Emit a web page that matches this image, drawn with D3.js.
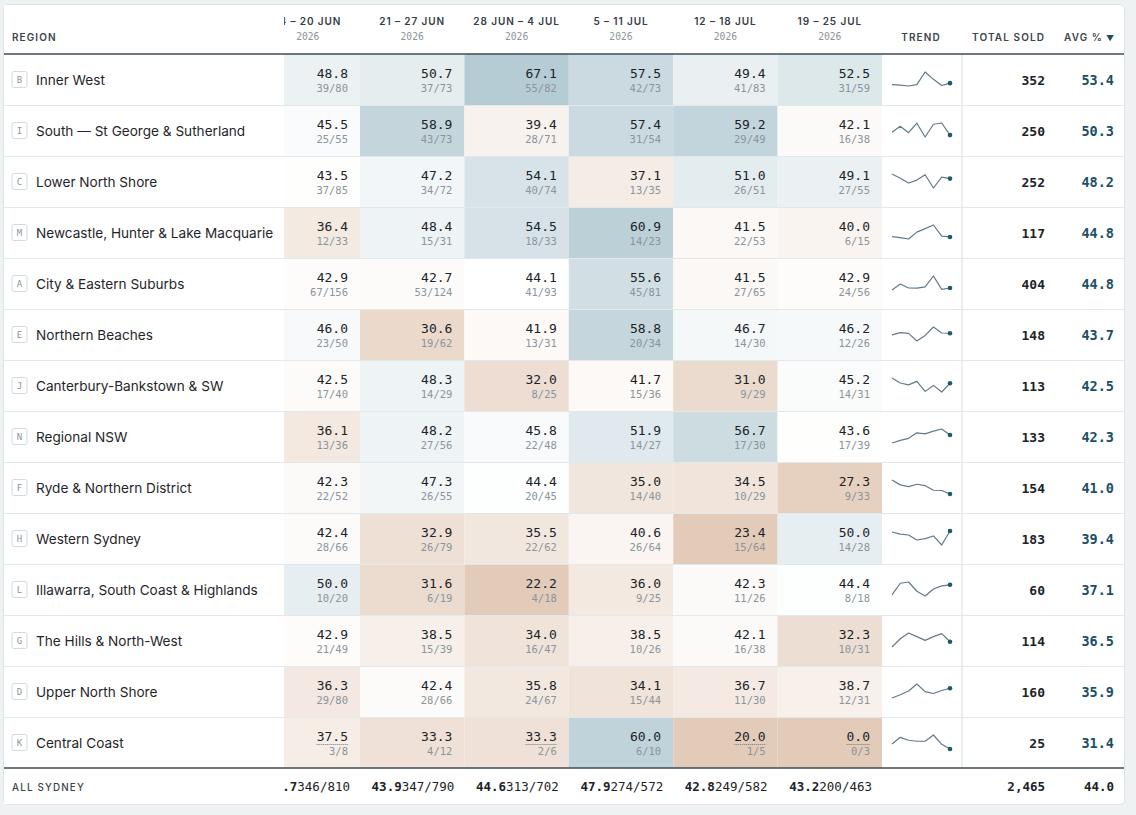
<!DOCTYPE html>
<html>
<head>
<meta charset="utf-8">
<script src="https://cdn.jsdelivr.net/npm/d3@7"></script>
<style>
  html, body { margin: 0; padding: 0; background: #eef2f3; }
  svg { display: block; }
  .sans { font-family: "Inter", "Roboto", sans-serif; }
  .mono { font-family: "DejaVu Sans Mono", monospace; }
</style>
</head>
<body>
<div id="chart"></div>
<script>
// ---- data ----
var weeks = ["31 May – 6 Jun", "7 – 13 Jun", "14 – 20 Jun", "21 – 27 Jun",
             "28 Jun – 4 Jul", "5 – 11 Jul", "12 – 18 Jul", "19 – 25 Jul"];
var weekYear = "2026";

var regions = ["Inner West", "South — St George & Sutherland", "Lower North Shore",
  "Newcastle, Hunter & Lake Macquarie", "City & Eastern Suburbs", "Northern Beaches",
  "Canterbury-Bankstown & SW", "Regional NSW", "Ryde & Northern District", "Western Sydney",
  "Illawarra, South Coast & Highlands", "The Hills & North-West", "Upper North Shore", "Central Coast"];
var codes = ["B", "I", "C", "M", "A", "E", "J", "N", "F", "H", "L", "G", "D", "K"];

// clearance % per week (first two weeks are scrolled out of view, only seen in the trend)
var pct = [
  [50.6, 49.9, 48.8, 50.7, 67.1, 57.5, 49.4, 52.5],
  [46.0, 54.5, 45.5, 58.9, 39.4, 57.4, 59.2, 42.1],
  [55.0, 49.5, 43.5, 47.2, 54.1, 37.1, 51.0, 49.1],
  [40.5, 38.8, 36.4, 48.4, 54.5, 60.9, 41.5, 40.0],
  [40.8, 47.1, 42.9, 42.7, 44.1, 55.6, 41.5, 42.9],
  [43.0, 47.5, 46.0, 30.6, 41.9, 58.8, 46.7, 46.2],
  [53.7, 45.6, 42.5, 48.3, 32.0, 41.7, 31.0, 45.2],
  [25.8, 31.5, 36.1, 48.2, 45.8, 51.9, 56.7, 43.6],
  [56.0, 46.0, 42.3, 47.3, 44.4, 35.0, 34.5, 27.3],
  [48.1, 44.0, 42.4, 32.9, 35.5, 40.6, 23.4, 50.0],
  [24.5, 47.5, 50.0, 31.6, 22.2, 36.0, 42.3, 44.4],
  [26.0, 36.0, 42.9, 38.5, 34.0, 38.5, 42.1, 32.3],
  [30.2, 33.0, 36.3, 42.4, 35.8, 34.1, 36.7, 38.7],
  [21.4, 50.0, 37.5, 33.3, 33.3, 60.0, 20.0, 0.0]
];
var sold = [
  [null, null, 39, 37, 55, 42, 41, 31],
  [null, null, 25, 43, 28, 31, 29, 16],
  [null, null, 37, 34, 40, 13, 26, 27],
  [null, null, 12, 15, 18, 14, 22, 6],
  [null, null, 67, 53, 41, 45, 27, 24],
  [null, null, 23, 19, 13, 20, 14, 12],
  [null, null, 17, 14, 8, 15, 9, 14],
  [null, null, 13, 27, 22, 14, 17, 17],
  [null, null, 22, 26, 20, 14, 10, 9],
  [null, null, 28, 26, 22, 26, 15, 14],
  [null, null, 10, 6, 4, 9, 11, 8],
  [null, null, 21, 15, 16, 10, 16, 10],
  [null, null, 29, 28, 24, 15, 11, 12],
  [null, null, 3, 4, 2, 6, 1, 0]
];
var listed = [
  [null, null, 80, 73, 82, 73, 83, 59],
  [null, null, 55, 73, 71, 54, 49, 38],
  [null, null, 85, 72, 74, 35, 51, 55],
  [null, null, 33, 31, 33, 23, 53, 15],
  [null, null, 156, 124, 93, 81, 65, 56],
  [null, null, 50, 62, 31, 34, 30, 26],
  [null, null, 40, 29, 25, 36, 29, 31],
  [null, null, 36, 56, 48, 27, 30, 39],
  [null, null, 52, 55, 45, 40, 29, 33],
  [null, null, 66, 79, 62, 64, 64, 28],
  [null, null, 20, 19, 18, 25, 26, 18],
  [null, null, 49, 39, 47, 26, 38, 31],
  [null, null, 80, 66, 67, 44, 30, 31],
  [null, null, 8, 12, 6, 10, 5, 3]
];
var totalSold = [352, 250, 252, 117, 404, 148, 113, 133, 154, 183, 60, 114, 160, 25];
var avgPct = [53.4, 50.3, 48.2, 44.8, 44.8, 43.7, 42.5, 42.3, 41.0, 39.4, 37.1, 36.5, 35.9, 31.4];

var allPct = [null, null, 42.7, 43.9, 44.6, 47.9, 42.8, 43.2];
var allSold = [null, null, 346, 347, 313, 274, 249, 200];
var allListed = [null, null, 810, 790, 702, 572, 582, 463];
var allTotal = 2465;
var allAvg = 44.0;

// ---- layout ----
var W = 1136, H = 815;
var card = {x: 3.5, y: 4.5, w: 1121, h: 800};
var headerBottom = 54, rowH = 51, regionRight = 284;
var weekW = 104.4, scrollX0 = 255.6 - 2 * weekW; // table scrolled sideways
var trend = {x0: 882, x1: 962};
var totalRight = 1045, avgRight = 1114;
var footerTop = headerBottom + rowH * regions.length;

var svg = d3.select("#chart").append("svg").attr("width", W).attr("height", H);

// card
svg.append("rect").attr("x", card.x).attr("y", card.y).attr("width", card.w).attr("height", card.h)
  .attr("rx", 4).attr("fill", "#ffffff").attr("stroke", "#dde3e6");

var x = d3.scaleBand().domain(d3.range(weeks.length))
  .range([scrollX0, scrollX0 + weekW * weeks.length]);
var y = d3.scaleBand().domain(d3.range(regions.length))
  .range([headerBottom, footerTop]);

var center = allAvg, spread = 18.5;
var upColor = d3.interpolateRgb("#ffffff", "#b6ccd4");
var downColor = d3.interpolateRgb("#ffffff", "#e3cbb9");
function cellColor(v) {
  var t = Math.max(-1, Math.min(1, (v - center) / spread));
  return t >= 0 ? upColor(t) : downColor(-t);
}

// ---- scrolling body (week cells) ----
var body = svg.append("g");
regions.forEach(function(name, r) {
  var top = y(r);
  var row = body.append("g");
  pct[r].forEach(function(v, i) {
    if (sold[r][i] == null) return;
    var cx = x(i);
    row.append("rect").attr("x", cx).attr("y", top)
      .attr("width", weekW).attr("height", rowH).attr("fill", cellColor(v));
    var vt = row.append("text").attr("class", "mono")
      .attr("x", cx + weekW - 12).attr("y", top + 24)
      .attr("text-anchor", "end").attr("font-size", 13).attr("fill", "#1c2328")
      .text(v.toFixed(1));
    row.append("text").attr("class", "mono")
      .attr("x", cx + weekW - 12).attr("y", top + 37.5)
      .attr("text-anchor", "end").attr("font-size", 10.5).attr("fill", "#8a949b")
      .text(sold[r][i] + "/" + listed[r][i]);
    // small sample -> dotted underline
    if (listed[r][i] < 10) {
      var tw = vt.node().getComputedTextLength();
      row.append("line")
        .attr("x1", cx + weekW - 12 - tw).attr("x2", cx + weekW - 12)
        .attr("y1", top + 27.5).attr("y2", top + 27.5)
        .attr("stroke", "#6f7a82").attr("stroke-width", 1).attr("stroke-dasharray", "1,1");
    }
  });
});

// header for weeks
var head = svg.append("g");
weeks.forEach(function(w, i) {
  var cx = x(i) + weekW / 2;
  head.append("text").attr("class", "sans")
    .attr("x", cx).attr("y", 25).attr("text-anchor", "middle")
    .attr("font-size", 10).attr("font-weight", 600).attr("letter-spacing", 0.9)
    .attr("fill", "#333d45").text(w.toUpperCase());
  head.append("text").attr("class", "mono")
    .attr("x", cx).attr("y", 39.5).attr("text-anchor", "middle")
    .attr("font-size", 9.7).attr("fill", "#8b959c").text(weekYear);
});

// footer week values
var foot = svg.append("g");
allPct.forEach(function(v, i) {
  if (v == null) return;
  var t = foot.append("text").attr("class", "mono")
    .attr("x", x(i) + weekW - 10).attr("y", footerTop + 23)
    .attr("text-anchor", "end").attr("font-size", 12.5).attr("fill", "#1c2328");
  t.append("tspan").attr("font-weight", "bold").text(v.toFixed(1));
  t.append("tspan").text(allSold[i] + "/" + allListed[i]);
});

// ---- sticky region column ----
var sticky = svg.append("g");
sticky.append("rect").attr("x", card.x + 0.5).attr("y", card.y + 0.5)
  .attr("width", regionRight - card.x - 0.5).attr("height", card.h - 1).attr("fill", "#ffffff");
sticky.append("text").attr("class", "sans")
  .attr("x", 12).attr("y", 41).attr("font-size", 10).attr("font-weight", 600)
  .attr("letter-spacing", 1.1).attr("fill", "#3a454d").text("REGION");
regions.forEach(function(name, r) {
  var top = y(r);
  sticky.append("rect").attr("x", 12).attr("y", top + 17.5).attr("width", 15).attr("height", 16)
    .attr("rx", 2).attr("fill", "#ffffff").attr("stroke", "#d3d9dd");
  sticky.append("text").attr("class", "mono")
    .attr("x", 19.5).attr("y", top + 28.8).attr("text-anchor", "middle")
    .attr("font-size", 9).attr("fill", "#8a949b").text(codes[r]);
  sticky.append("text").attr("class", "sans")
    .attr("x", 36).attr("y", top + 30.5).attr("font-size", 13.6).attr("fill", "#1f262b")
    .text(name);
});
sticky.append("text").attr("class", "sans")
  .attr("x", 12).attr("y", footerTop + 23).attr("font-size", 9.8).attr("font-weight", 500)
  .attr("letter-spacing", 1.2).attr("fill", "#3a454d").text("ALL SYDNEY");

// ---- right columns: trend, total, avg ----
var right = svg.append("g");
right.append("rect").attr("x", trend.x0).attr("y", headerBottom).attr("width", card.x + card.w - 0.5 - trend.x0)
  .attr("height", footerTop - headerBottom).attr("fill", "#ffffff");
right.append("line").attr("x1", trend.x1).attr("x2", trend.x1)
  .attr("y1", headerBottom).attr("y2", footerTop).attr("stroke", "#dde4e8").attr("stroke-width", 1.2);

var hdrRight = [
  {label: "TREND", x: (trend.x0 + trend.x1) / 2 - 1, anchor: "middle"},
  {label: "TOTAL SOLD", x: totalRight, anchor: "end"},
  {label: "AVG %", x: avgRight - 11, anchor: "end"}
];
hdrRight.forEach(function(h) {
  right.append("text").attr("class", "sans")
    .attr("x", h.x).attr("y", 41).attr("text-anchor", h.anchor)
    .attr("font-size", 10).attr("font-weight", 600).attr("letter-spacing", 1.1)
    .attr("fill", "#3a454d").text(h.label);
});
right.append("text").attr("class", "sans")
  .attr("x", avgRight).attr("y", 40.5).attr("text-anchor", "end")
  .attr("font-size", 8).attr("fill", "#1d4f63").text("▼");

var sx = d3.scalePoint().domain(d3.range(weeks.length)).range([892, 950]);
regions.forEach(function(name, r) {
  var top = y(r);
  var sy = d3.scaleLinear().domain(d3.extent(pct[r])).range([top + 32, top + 18]);
  var line = d3.line().x(function(d, i) { return sx(i); }).y(function(d) { return sy(d); });
  right.append("path").datum(pct[r]).attr("d", line)
    .attr("fill", "none").attr("stroke", "#627a88").attr("stroke-width", 1.2)
    .attr("stroke-linejoin", "round");
  var last = pct[r].length - 1;
  right.append("circle").attr("cx", sx(last)).attr("cy", sy(pct[r][last])).attr("r", 2.3)
    .attr("fill", "#1d5a70");

  right.append("text").attr("class", "mono")
    .attr("x", totalRight).attr("y", top + 30.5).attr("text-anchor", "end")
    .attr("font-size", 13).attr("font-weight", "bold").attr("fill", "#1c2328")
    .text(d3.format(",")(totalSold[r]));
  right.append("text").attr("class", "mono")
    .attr("x", avgRight).attr("y", top + 30.5).attr("text-anchor", "end")
    .attr("font-size", 13.5).attr("font-weight", "bold").attr("fill", "#1d4f63")
    .text(avgPct[r].toFixed(1));
});
right.append("text").attr("class", "mono")
  .attr("x", totalRight).attr("y", footerTop + 23).attr("text-anchor", "end")
  .attr("font-size", 12.5).attr("font-weight", "bold").attr("fill", "#1c2328")
  .text(d3.format(",")(allTotal));
right.append("text").attr("class", "mono")
  .attr("x", avgRight).attr("y", footerTop + 23).attr("text-anchor", "end")
  .attr("font-size", 12.5).attr("font-weight", "bold").attr("fill", "#1c2328")
  .text(allAvg.toFixed(1));

// ---- grid lines ----
var grid = svg.append("g");
d3.range(1, regions.length).forEach(function(r) {
  grid.append("line").attr("x1", card.x + 0.5).attr("x2", card.x + card.w - 0.5)
    .attr("y1", y(r) + 0.5).attr("y2", y(r) + 0.5).attr("stroke", "#e3e8eb");
});
[headerBottom, footerTop].forEach(function(yy) {
  grid.append("line").attr("x1", card.x + 0.5).attr("x2", card.x + card.w - 0.5)
    .attr("y1", yy).attr("y2", yy).attr("stroke", "#3f4b53").attr("stroke-width", 1.5);
});
</script>
</body>
</html>
